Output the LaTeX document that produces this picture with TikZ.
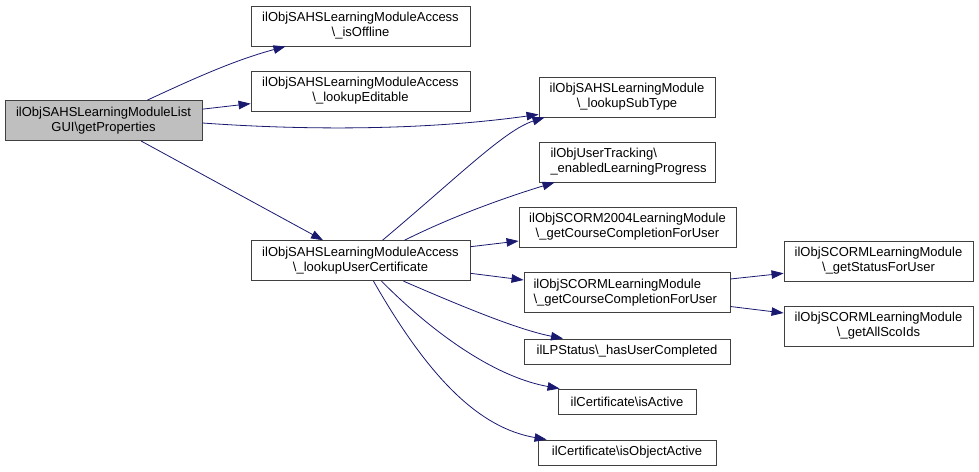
\documentclass[tikz,border=0pt]{standalone}
\usepackage{fontspec}
\setmainfont{Liberation Sans}
\usetikzlibrary{arrows.meta}
\definecolor{edgecol}{RGB}{25,25,112}
\definecolor{boxline}{RGB}{64,64,64}
\definecolor{rootfill}{RGB}{191,191,191}
\tikzset{
  fn/.style={draw=boxline, line width=0.9pt, fill=white, inner sep=0pt, align=center,
    font=\fontsize{13}{15}\selectfont, text=black},
  tall/.style={minimum height=40pt},
  short/.style={minimum height=25pt},
  rootbox/.style={fn, tall, fill=rootfill},
  call/.style={draw=edgecol, line width=0.8pt, -{Triangle[length=12pt,width=8.5pt,fill=edgecol]}},
}
\newcommand{\bs}{\textbackslash}
\begin{document}
\begin{tikzpicture}[x=1pt,y=-1pt]
\useasboundingbox (0,0) rectangle (979,471);
\node[rootbox, minimum width=197pt] (root) at (103.5,120.5) {ilObjSAHSLearningModuleList\\GUI\bs getProperties};
\node[fn, tall, minimum width=219pt] (isoff) at (360.5,26) {ilObjSAHSLearningModuleAccess\\\bs\_isOffline};
\node[fn, tall, minimum width=219pt] (led) at (360.5,91) {ilObjSAHSLearningModuleAccess\\\bs\_lookupEditable};
\node[fn, tall, minimum width=219pt] (luc) at (360.5,260.7) {ilObjSAHSLearningModuleAccess\\\bs\_lookupUserCertificate};
\node[fn, tall, minimum width=176pt] (lst) at (627,97) {ilObjSAHSLearningModule\\\bs\_lookupSubType};
\node[fn, tall, minimum width=176pt, align=left, text width=153pt] (elp) at (627,162) {ilObjUserTracking\bs\\\_enabledLearningProgress};
\node[fn, tall, minimum width=217pt] (s2004) at (627.5,227) {ilObjSCORM2004LearningModule\\\bs\_getCourseCompletionForUser};
\node[fn, tall, minimum width=206pt, align=left, text width=187pt] (scorm) at (627,292.5) {ilObjSCORMLearningModule\\\bs\_getCourseCompletionForUser};
\node[fn, short, minimum width=206pt] (huc) at (627,351.5) {ilLPStatus\bs\_hasUserCompleted};
\node[fn, short, minimum width=138pt] (isa) at (627,401.5) {ilCertificate\bs isActive};
\node[fn, short, minimum width=178pt] (ioa) at (627,452.5) {ilCertificate\bs isObjectActive};
\node[fn, tall, minimum width=189pt] (gsu) at (878.5,261) {ilObjSCORMLearningModule\\\bs\_getStatusForUser};
\node[fn, tall, minimum width=189pt] (gas) at (878.5,326) {ilObjSCORMLearningModule\\\bs\_getAllScoIds};

\draw[call] ([xshift=44pt]root.north) .. controls (195,78) and (235,60) .. ([xshift=-75pt]isoff.south);
\draw[call] (root) -- (led);
\draw[call] ([yshift=-2.5pt]root.east) .. controls (300,130) and (420,131) .. ([yshift=3pt]lst.south west);
\draw[call] (root) -- (luc);
\draw[call] ([xshift=22pt]luc.north) .. controls (460,175) and (505,130) .. ([xshift=6pt]lst.south west);
\draw[call] ([xshift=44pt]luc.north) .. controls (455,215) and (510,196) .. ([xshift=16pt]elp.south west);
\draw[call] ([yshift=14pt]luc.east) -- ([yshift=-14pt]s2004.west);
\draw[call] ([yshift=-12.6pt]luc.east) -- ([yshift=12.5pt]scorm.west);
\draw[call] ([xshift=43pt]luc.south) .. controls (470,310) and (520,330) .. ([xshift=-64pt]huc.north);
\draw[call] ([xshift=21pt]luc.south) .. controls (440,340) and (500,378) .. ([xshift=2pt]isa.north west);
\draw[call] ([xshift=13pt]luc.south) .. controls (430,380) and (480,428) .. ([xshift=9pt]ioa.north west);
\draw[call] ([yshift=13.5pt]scorm.east) -- ([yshift=-12.3pt]gsu.west);
\draw[call] ([yshift=-14pt]scorm.east) -- ([yshift=13pt]gas.west);
\end{tikzpicture}
\end{document}
